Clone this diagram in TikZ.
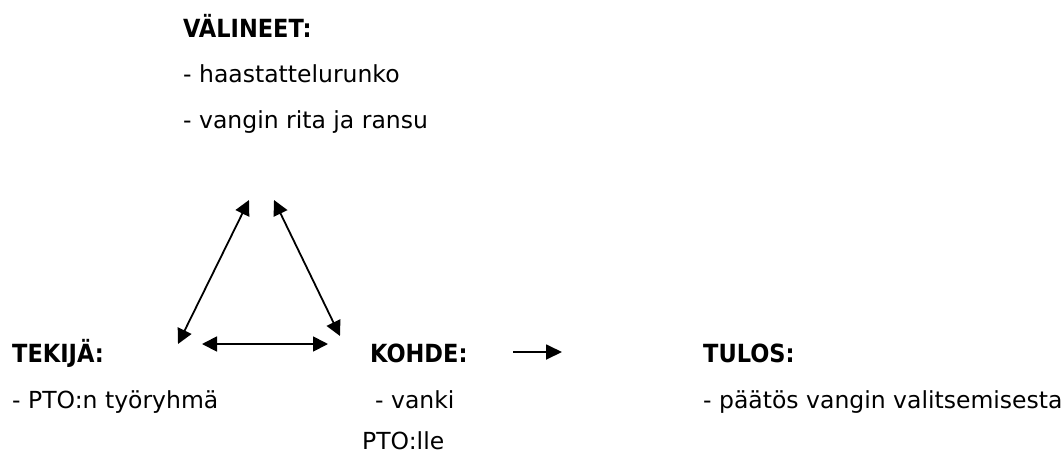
\documentclass[tikz,border=0pt]{standalone}
\usepackage{fontspec}
\setmainfont{DejaVu Sans}
\newfontfamily\hdfont{DejaVu Sans Condensed}
\usetikzlibrary{arrows.meta}
\begin{document}
\begin{tikzpicture}[x=1pt,y=-1pt,
  txt/.style={anchor=base west,inner sep=0pt,font=\fontsize{23.5}{28}\selectfont},
  hd/.style={txt,font=\hdfont\fontsize{25}{30}\selectfont\bfseries},
  tip/.tip={Triangle[length=15pt,width=15pt]},
  dbl/.style={line width=1.8pt,tip-tip},
  sgl/.style={line width=1.8pt,-{Triangle[length=16pt,width=15pt]}}]
\useasboundingbox (0,0) rectangle (1063,456);
\node[hd]  (val)  at (183,37)  {VÄLINEET:};
\node[txt] (val1) at (183,82)  {- haastattelurunko};
\node[txt] (val2) at (183,128) {- vangin rita ja ransu};
\node[hd]  (tek)  at (12,362)  {TEKIJÄ:};
\node[txt] (tek1) at (12,408)  {- PTO:n työryhmä};
\node[hd]  (koh)  at (370,362) {KOHDE:};
\node[txt] (koh1) at (375,408) {- vanki};
\node[txt] (koh2) at (362,449) {PTO:lle};
\node[hd]  (tul)  at (703,362) {TULOS:};
\node[txt] (tul1) at (703,408) {- päätös vangin valitsemisesta};
\coordinate (tl) at (249,200);
\coordinate (tr) at (274,200);
\coordinate (bl) at (178,344);
\coordinate (br) at (340,336);
\coordinate (hl) at (202,344);
\coordinate (hr) at (328,344);
\coordinate (ka) at (513,352);
\coordinate (kb) at (562,352);
\draw[dbl] (bl) -- (tl);
\draw[dbl] (tr) -- (br);
\draw[dbl] (hl) -- (hr);
\draw[sgl] (ka) -- (kb);
\end{tikzpicture}
\end{document}
